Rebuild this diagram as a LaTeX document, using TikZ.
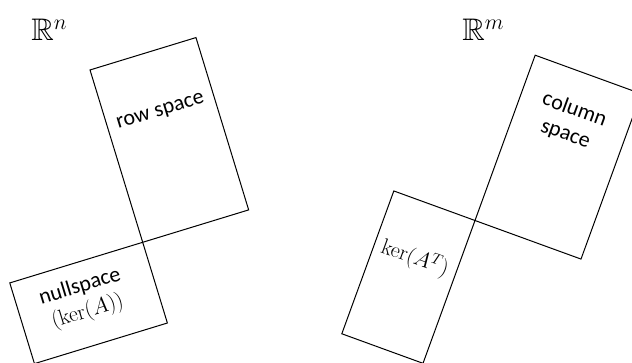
\RequirePackage{fix-cm}
\documentclass[tikz,border=0pt]{standalone}
\usepackage{amssymb}
\usepackage[no-math]{fontspec}
\setmainfont{Carlito}

\begin{document}
\begin{tikzpicture}[x=1pt,y=1pt,
 box/.style={draw=black,line width=1pt,line join=miter},
 label/.style={font=\fontsize{22}{26}\selectfont,align=center,inner sep=0pt},
 space/.style={font=\fontsize{24}{28}\selectfont,scale=1.3,anchor=base west,inner sep=0pt}]
\useasboundingbox (0,0) rectangle (632,363);
\clip (0,0) rectangle (632,363);
% left: domain, rectangles meet at one corner
\coordinate (o1) at (142.7,120.7);
\draw[box] (o1) -- ++(17:110.8pt) -- ++(107:180.2pt) -- ++(-163:110.8pt) -- cycle;
\draw[box] (o1) -- ++(197:139pt) -- ++(-73:84.4pt) -- ++(17:139pt) -- cycle;
\node[space] (rn) at (31,322) {$\mathbb{R}^n$};
\node[label,rotate=17] (row) at (160.7,250.7) {row space};
\node[label,rotate=17] (null) at (84,63) {nullspace\\$(\ker(A))$};
% right: codomain
\coordinate (o2) at (475,142.5);
\draw[box] (o2) -- ++(-20:112.8pt) -- ++(70:175.9pt) -- ++(160:112.8pt) -- cycle;
\draw[box] (o2) -- ++(160:86.4pt) -- ++(-110:152pt) -- ++(-20:86.4pt) -- cycle;
\node[space] (rm) at (462,322) {$\mathbb{R}^m$};
\node[label,rotate=-20] (col) at (570,241) {column\\space};
\node[label,rotate=-20] (ker) at (415,105) {$\ker(A^T)$};
\end{tikzpicture}
\end{document}
